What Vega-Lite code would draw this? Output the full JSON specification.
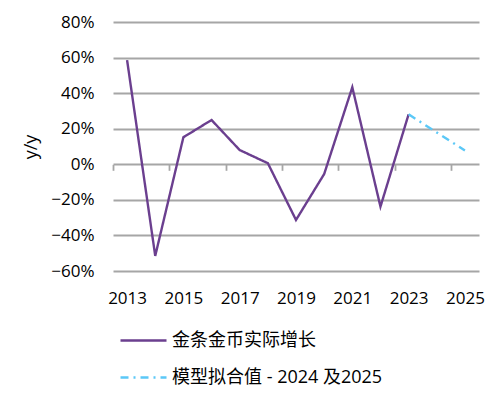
{
  "$schema": "https://vega.github.io/schema/vega-lite/v6.json",
  "width": 366,
  "height": 249,
  "autosize": "none",
  "padding": {"left": 113, "top": 22, "right": 20, "bottom": 129},
  "background": "white",
  "data": {
    "values": [
      {"year": 2013, "value": 0.586, "series": "金条金币实际增长"},
      {"year": 2014, "value": -0.515, "series": "金条金币实际增长"},
      {"year": 2015, "value": 0.152, "series": "金条金币实际增长"},
      {"year": 2016, "value": 0.249, "series": "金条金币实际增长"},
      {"year": 2017, "value": 0.08, "series": "金条金币实际增长"},
      {"year": 2018, "value": 0.006, "series": "金条金币实际增长"},
      {"year": 2019, "value": -0.313, "series": "金条金币实际增长"},
      {"year": 2020, "value": -0.055, "series": "金条金币实际增长"},
      {"year": 2021, "value": 0.433, "series": "金条金币实际增长"},
      {"year": 2022, "value": -0.238, "series": "金条金币实际增长"},
      {"year": 2023, "value": 0.281, "series": "金条金币实际增长"},
      {"year": 2023, "value": 0.281, "series": "模型拟合值 - 2024 及2025"},
      {"year": 2024, "value": 0.179, "series": "模型拟合值 - 2024 及2025"},
      {"year": 2025, "value": 0.078, "series": "模型拟合值 - 2024 及2025"}
    ]
  },
  "encoding": {
    "y": {
      "field": "value",
      "type": "quantitative",
      "scale": {"domain": [-0.6, 0.8], "nice": false, "zero": false},
      "axis": {
        "title": "y/y",
        "format": ".0%",
        "values": [-0.6, -0.4, -0.2, 0, 0.2, 0.4, 0.6, 0.8],
        "domain": false,
        "ticks": false,
        "grid": true,
        "labelPadding": 19,
        "titlePadding": 10,
        "titleFontSize": 18,
        "gridColor": "#a6a6a6",
        "gridWidth": 1.8
      }
    }
  },
  "layer": [
    {
      "mark": {"type": "line", "strokeWidth": 2.4},
      "encoding": {
        "x": {
          "field": "year",
          "type": "ordinal",
          "scale": {"paddingInner": 0, "paddingOuter": 0},
          "axis": {
            "title": null,
            "values": [2013, 2015, 2017, 2019, 2021, 2023, 2025],
            "labelAngle": 0,
            "domain": false,
            "ticks": false,
            "grid": false,
            "labelPadding": 19
          }
        },
        "color": {
          "field": "series",
          "type": "nominal",
          "scale": {
            "domain": ["金条金币实际增长", "模型拟合值 - 2024 及2025"],
            "range": ["#6b3f8f", "#5bc8f7"]
          },
          "legend": {
            "title": null,
            "orient": "none",
            "legendX": 6,
            "legendY": 294,
            "symbolType": "stroke",
            "symbolSize": 2116,
            "symbolStrokeWidth": 2.5,
            "labelFontSize": 18,
            "labelOffset": 4,
            "rowPadding": 3,
            "labelLimit": 400
          }
        },
        "strokeDash": {
          "field": "series",
          "type": "nominal",
          "scale": {
            "domain": ["金条金币实际增长", "模型拟合值 - 2024 及2025"],
            "range": [[1, 0], [8, 5, 2, 5]]
          },
          "legend": {
            "title": null,
            "orient": "none",
            "legendX": 6,
            "legendY": 294,
            "symbolType": "stroke",
            "symbolSize": 2116,
            "symbolStrokeWidth": 2.5,
            "labelFontSize": 18,
            "labelOffset": 4,
            "rowPadding": 3,
            "labelLimit": 400
          }
        }
      }
    },
    {
      "mark": {"type": "point", "opacity": 0},
      "encoding": {
        "x": {
          "field": "year",
          "type": "quantitative",
          "scale": {"domain": [2012.5, 2025.5], "nice": false, "zero": false},
          "axis": {
            "title": null,
            "orient": "bottom",
            "offset": -106.7,
            "values": [2012.5, 2014.5, 2016.5, 2018.5, 2020.5, 2022.5, 2024.5],
            "labels": false,
            "domain": false,
            "ticks": true,
            "tickSize": 6,
            "tickWidth": 1.8,
            "tickColor": "#a6a6a6",
            "grid": false
          }
        }
      }
    }
  ],
  "resolve": {"scale": {"x": "independent"}, "axis": {"x": "independent"}},
  "config": {
    "font": "Open Sans, Noto Sans CJK SC",
    "view": {"stroke": null},
    "axis": {
      "labelFontSize": 17,
      "labelColor": "#000000",
      "titleFontSize": 18,
      "titleFontWeight": "normal",
      "titleColor": "#000000",
      "labelFont": "Open Sans",
      "titleFont": "Open Sans"
    },
    "legend": {
      "labelColor": "#000000",
      "labelFont": "Open Sans, Noto Sans CJK SC"
    }
  }
}
